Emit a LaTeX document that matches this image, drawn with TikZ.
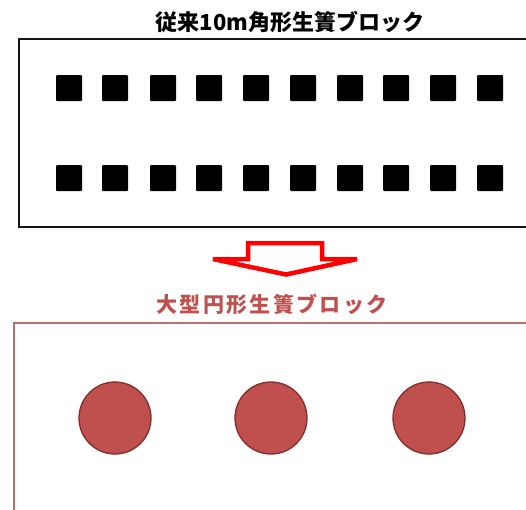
\documentclass[tikz,border=0pt]{standalone}
\usepackage{fontspec}
\newfontfamily\cjkA{Noto Sans CJK JP}
\newfontfamily\cjkB{Noto Sans CJK JP}[LetterSpace=11]
\definecolor{titlered}{RGB}{192,80,77}
\definecolor{circfill}{RGB}{192,80,77}
\definecolor{circline}{RGB}{130,45,45}
\definecolor{boxred}{RGB}{180,115,115}
\definecolor{arrowred}{RGB}{255,0,0}
\definecolor{boxgray}{RGB}{20,20,20}
\tikzset{
  sq/.style={fill=black, draw=none, rounded corners=1pt},
  pond/.style={circle, fill=circfill, draw=circline, line width=1.3pt, minimum size=72pt, inner sep=0pt},
  ttl/.style={inner sep=0pt},
}
\begin{document}
\begin{tikzpicture}[x=1pt,y=-1pt]
\useasboundingbox (0,0) rectangle (526,509);
% titles
\node[ttl, text=black, font=\cjkA\bfseries\fontsize{22}{25}\selectfont] (t1) at (290,22) {従来10m角形生簀ブロック};
\node[ttl, text=titlered, font=\cjkB\bfseries\fontsize{21}{24}\selectfont] (t2) at (272,304) {大型円形生簀ブロック};
% boxes (extend beyond right edge)
\begin{scope}
\clip (0,0) rectangle (526,509);
\draw[boxgray, line width=2pt] (540,39) -- (19,39) -- (19,227) -- (540,227);
\draw[boxred, line width=2pt] (540,323) -- (14,323) -- (14,520);
\end{scope}
% squares
\foreach \x [count=\i] in {56,102,150,196,243,290,337,383,430,477}{
  \fill[sq] (\x,75) rectangle ++(26,26);
  \node[inner sep=0pt, minimum size=0pt] (a\i) at (\x+13,88) {};
  \fill[sq] (\x,165) rectangle ++(26,26);
  \node[inner sep=0pt, minimum size=0pt] (b\i) at (\x+13,178) {};
}
% arrow
\draw[arrowred, line width=4.5pt, fill=white, line join=miter, miter limit=3]
  (248,243) -- (322,243) -- (322,259) -- (357,259) -- (286,274.5) -- (213,259) -- (248,259) -- cycle;
% circles
\node[pond] (c1) at (115,418) {};
\node[pond] (c2) at (271,418) {};
\node[pond] (c3) at (429,418) {};
\end{tikzpicture}
\end{document}
